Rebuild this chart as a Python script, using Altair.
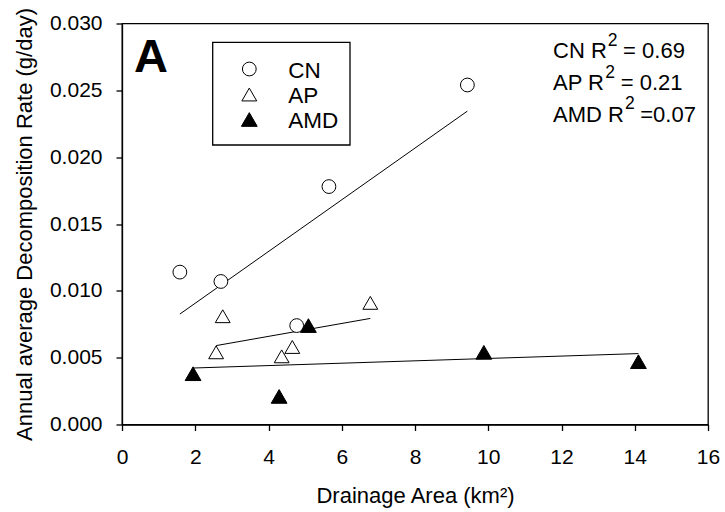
import altair as alt
import pandas as pd

# Drainage area (km^2) and annual average decomposition rate (g/day) per site group
cn_area = [1.58, 2.70, 4.77, 5.65, 9.43]
cn_rate = [0.0114, 0.0107, 0.0074, 0.0178, 0.0254]
ap_area = [2.57, 2.75, 4.36, 4.65, 6.78]
ap_rate = [0.0054, 0.0081, 0.0051, 0.0058, 0.0091]
amd_area = [1.94, 4.29, 5.09, 9.88, 14.10]
amd_rate = [0.0038, 0.0021, 0.0074, 0.0054, 0.0047]

groups = ["CN", "AP", "AMD"]
group_shapes = ["circle", "triangle-up", "triangle-up"]
group_fills = ["white", "white", "black"]
group_sizes = [190, 250, 250]
r2_prefix = ["CN R", "AP R", "AMD R"]
r2_suffix = ["= 0.69", "= 0.21", "=0.07"]
panel_letter = "A"

x_ticks = list(range(0, 17, 2))
y_ticks = [0.0, 0.005, 0.010, 0.015, 0.020, 0.025, 0.030]

rows = []
for name, xs, ys in [("CN", cn_area, cn_rate), ("AP", ap_area, ap_rate), ("AMD", amd_area, amd_rate)]:
    for xv, yv in zip(xs, ys):
        rows.append({"group": name, "area": xv, "rate": yv})
df = pd.DataFrame(rows)

FONT = "Liberation Sans"

# Arial/Liberation Sans advance widths (per 1000 em) for laying out the R^2 lines
ADV = {"C": 722, "N": 722, " ": 278, "R": 722, "A": 667, "P": 667, "M": 833,
       "D": 722, "=": 584, "0": 556, ".": 278, "1": 556, "2": 556, "6": 556,
       "7": 556, "9": 556}


def text_width(s, size):
    return sum(ADV.get(ch, 556) for ch in s) * size / 1000.0


shape_scale = alt.Scale(domain=groups, range=group_shapes)
fill_scale = alt.Scale(domain=groups, range=group_fills)
size_scale = alt.Scale(domain=groups, range=group_sizes)

x_enc = alt.X(
    "area:Q",
    scale=alt.Scale(domain=[0, 16], nice=False, zero=False),
    axis=alt.Axis(values=x_ticks, format="d", title="Drainage Area (km\u00b2)"),
)
y_enc = alt.Y(
    "rate:Q",
    scale=alt.Scale(domain=[0, 0.030], nice=False),
    axis=alt.Axis(values=y_ticks, format=".3f",
                  title="Annual average Decomposition Rate (g/day)"),
)

base = alt.Chart(df)

points = base.mark_point(filled=False, stroke="black", strokeWidth=1, opacity=1).encode(
    x=x_enc,
    y=y_enc,
    shape=alt.Shape("group:N", scale=shape_scale, legend=None),
    fill=alt.Fill("group:N", scale=fill_scale, legend=None),
    size=alt.Size("group:N", scale=size_scale, legend=None),
)

fits = base.transform_regression(
    "area", "rate", groupby=["group"]
).mark_line(color="black", strokeWidth=1).encode(
    x="area:Q",
    y="rate:Q",
    detail="group:N",
)

letter = alt.Chart(pd.DataFrame({"t": [panel_letter]})).mark_text(
    font=FONT, fontSize=47, fontWeight="bold", align="left", baseline="alphabetic", color="black"
).encode(x=alt.value(12), y=alt.value(48), text="t:N")

# Boxed key in the upper left of the plot area
key_frame = alt.Chart(pd.DataFrame({"k": [0]})).mark_rect(
    fill="white", stroke="black", strokeWidth=1.3
).encode(x=alt.value(90.7), x2=alt.value(228), y=alt.value(18.8), y2=alt.value(121.5))

key_layers = [key_frame]
key_sym_y = [45.5, 71.0, 96.0]
key_txt_y = [54.8, 79.8, 104.8]
for g, sy, ty in zip(groups, key_sym_y, key_txt_y):
    row = alt.Chart(pd.DataFrame({"group": [g]}))
    key_layers.append(
        row.mark_point(filled=False, stroke="black", strokeWidth=1, opacity=1).encode(
            x=alt.value(127.3), y=alt.value(sy),
            shape=alt.Shape("group:N", scale=shape_scale, legend=None),
            fill=alt.Fill("group:N", scale=fill_scale, legend=None),
            size=alt.Size("group:N", scale=size_scale, legend=None),
        )
    )
    key_layers.append(
        row.mark_text(font=FONT, fontSize=22.5, align="left", baseline="alphabetic", color="black").encode(
            x=alt.value(166.3), y=alt.value(ty), text="group:N"
        )
    )

# R^2 annotations: main text, raised superscript "2", then the value
MAIN = 22
SUP = 17.5
x0 = 431
line_y0 = 34.8
line_gap = 31.7
r2_layers = []
for i, (pre, suf) in enumerate(zip(r2_prefix, r2_suffix)):
    yb = line_y0 + i * line_gap
    wp = text_width(pre, MAIN)
    ws = text_width("2", SUP) + text_width(" ", MAIN) + 0.5
    one = pd.DataFrame({"pre": [pre], "sup": ["2"], "suf": [suf]})
    c = alt.Chart(one)
    r2_layers.append(c.mark_text(font=FONT, fontSize=MAIN, align="left", baseline="alphabetic",
                                 color="black").encode(x=alt.value(x0), y=alt.value(yb), text="pre:N"))
    r2_layers.append(c.mark_text(font=FONT, fontSize=SUP, align="left", baseline="alphabetic",
                                 color="black").encode(x=alt.value(x0 + wp + 1), y=alt.value(yb - 12.3),
                                                       text="sup:N"))
    r2_layers.append(c.mark_text(font=FONT, fontSize=MAIN, align="left", baseline="alphabetic",
                                 color="black").encode(x=alt.value(x0 + wp + ws), y=alt.value(yb),
                                                       text="suf:N"))

chart = alt.layer(fits, points, letter, *key_layers, *r2_layers).properties(
    width=586,
    height=401,
    autosize=alt.AutoSizeParams(type="none"),
    padding={"left": 122, "top": 23.5, "right": 17, "bottom": 87.5},
).configure(
    font=FONT,
).configure_view(
    stroke="black", strokeWidth=1.3,
).configure_axis(
    grid=False, labelFlush=False,
    domainColor="black", domainWidth=1.3,
    tickColor="black", tickWidth=1.3, tickSize=6,
    labelColor="black", labelFontSize=21, labelFont=FONT,
    titleColor="black", titleFontSize=22, titleFont=FONT, titleFontWeight="normal",
).configure_axisX(
    labelPadding=16, titlePadding=17.5,
).configure_axisY(
    labelPadding=14, titlePadding=13,
)

chart.save("out.html", embed_options={"renderer": "svg", "actions": False})
